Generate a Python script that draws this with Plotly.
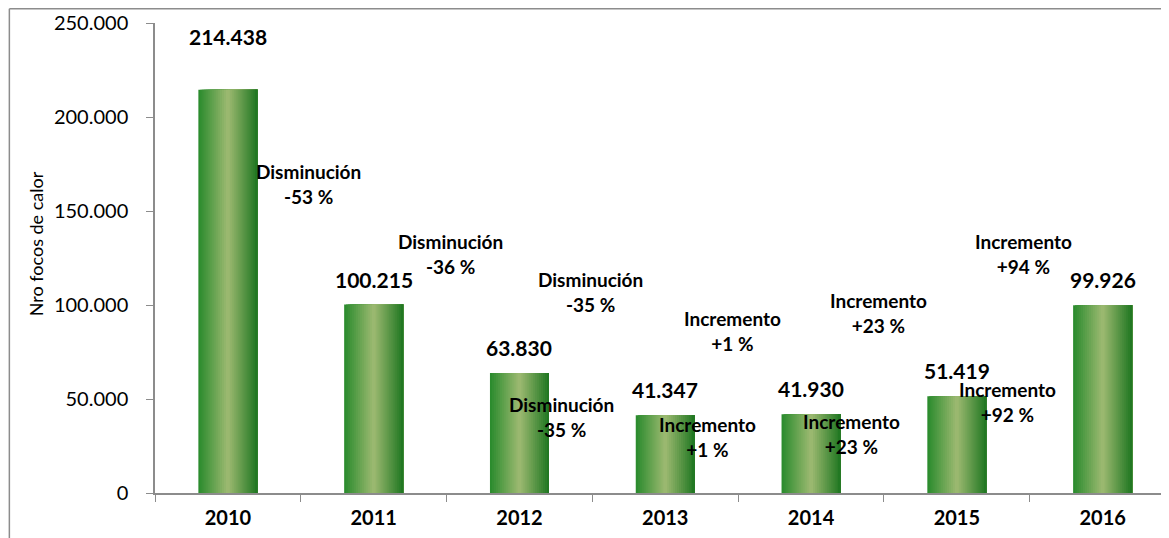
import plotly.graph_objects as go

years = ["2010", "2011", "2012", "2013", "2014", "2015", "2016"]
focos = [214438, 100215, 63830, 41347, 41930, 51419, 99926]
focos_txt = ["214.438", "100.215", "63.830", "41.347", "41.930", "51.419", "99.926"]

# variation between consecutive years (upper labels + the repeated lower ones)
cambio_txt = ["Disminución<br>-53 %", "Disminución<br>-36 %", "Disminución<br>-35 %",
              "Incremento<br>+1 %", "Incremento<br>+23 %", "Incremento<br>+94 %"]
cambio_x = [0.556, 1.53, 2.485, 3.459, 4.461, 5.456]
cambio_y = [164400, 127100, 106900, 86200, 95700, 127100]

cambio2_txt = ["Disminución<br>-35 %", "Incremento<br>+1 %", "Incremento<br>+23 %", "Incremento<br>+92 %"]
cambio2_x = [2.286, 3.288, 4.276, 5.347]
cambio2_y = [40400, 29800, 31400, 48400]

FONT = "Lato"
BAR_W = 0.405


def lerp(c1, c2, t):
    return "rgb(%d,%d,%d)" % tuple(round(a + (b - a) * t) for a, b in zip(c1, c2))


edge_l = (40, 138, 44)
mid = (158, 186, 114)
edge_r = (30, 118, 32)

fig = go.Figure()

# fake the horizontal gradient: each layer runs to the right edge of the bar
n = 30
for k in range(n):
    t = (k + 0.5) / n
    if t < 0.5:
        col = lerp(edge_l, mid, t / 0.5)
    else:
        col = lerp(mid, edge_r, (t - 0.5) / 0.5)
    fig.add_trace(go.Bar(
        x=years, y=focos,
        width=BAR_W - k * BAR_W / n,
        offset=-BAR_W / 2 + k * BAR_W / n,
        marker=dict(color=col, line=dict(width=0)),
        hoverinfo="skip" if k else "x+y",
        showlegend=False,
    ))

label_shift = {"2010": 28}
for i, (yr, v, t) in enumerate(zip(years, focos, focos_txt)):
    fig.add_annotation(x=i, y=v, text="<b>%s</b>" % t, showarrow=False,
                       yanchor="bottom", yshift=11 + label_shift.get(yr, 0),
                       font=dict(family=FONT, size=21, color="black"))

for tx, xx, yy in list(zip(cambio_txt, cambio_x, cambio_y)) + list(zip(cambio2_txt, cambio2_x, cambio2_y)):
    fig.add_annotation(x=xx, y=yy, text="<b>%s</b>" % tx, showarrow=False,
                       font=dict(family=FONT, size=19, color="black"))

fig.add_annotation(xref="paper", yref="paper", x=-0.117, y=0.53, xanchor="center", yanchor="middle",
                   text="Nro focos de calor", textangle=-90, showarrow=False,
                   font=dict(family=FONT, size=18, color="black"))

# outer chart border (left and top edges, the rest runs off the page)
fig.add_shape(type="line", xref="paper", yref="paper", x0=-0.1425, x1=-0.1425, y0=-0.2, y1=1.0303,
              line=dict(color="#8c8c8c", width=1.5))
fig.add_shape(type="line", xref="paper", yref="paper", x0=-0.1425, x1=1.05, y0=1.0303, y1=1.0303,
              line=dict(color="#8c8c8c", width=1.5))

fig.update_layout(
    width=1169, height=538,
    margin=dict(l=147, r=0, t=15, b=53),
    barmode="overlay",
    paper_bgcolor="white", plot_bgcolor="white",
    separators=",.",
    font=dict(family=FONT, color="black"),
)
fig.update_xaxes(
    type="category", range=[-0.5, 6.51], tickson="boundaries",
    ticks="outside", ticklen=7, tickcolor="#8c8c8c",
    showline=True, linecolor="#8c8c8c", linewidth=1.5,
    tickfont=dict(family=FONT, size=20), tickprefix="<b>", ticksuffix="</b>",
    ticklabelstandoff=6, showgrid=False, automargin=False,
)
fig.update_yaxes(
    range=[0, 250000], tickvals=[0, 50000, 100000, 150000, 200000, 250000], tickformat=",",
    ticks="outside", ticklen=7, tickcolor="#8c8c8c",
    showline=True, linecolor="#8c8c8c", linewidth=1.5,
    tickfont=dict(family=FONT, size=20), ticklabelstandoff=14,
    showgrid=False, zeroline=False, automargin=False,
)

fig.write_html("out.html")
